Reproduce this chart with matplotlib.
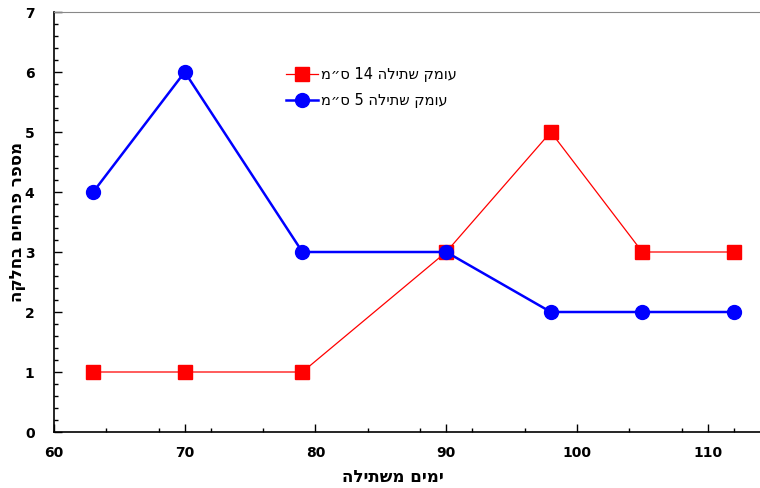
import matplotlib
matplotlib.use('Agg')
import matplotlib.pyplot as plt
from matplotlib.ticker import MultipleLocator

days = [63, 70, 79, 90, 98, 105, 112]
depth_14 = [1, 1, 1, 3, 5, 3, 3]
depth_5 = [4, 6, 3, 3, 2, 2, 2]
label_14 = 'עומק שתילה 14 ס״מ'
label_5 = 'עומק שתילה 5 ס״מ'
xlabel = 'ימים משתילה'
ylabel = 'מספר פרחים בחלקה'


def rtl(s):
    # matplotlib has no bidi support: flip word order and Hebrew letters
    return ' '.join(w if w.isdigit() else w[::-1] for w in reversed(s.split()))


plt.rcParams['font.family'] = ['DejaVu Sans']

fig = plt.figure(figsize=(7.6, 4.88), dpi=100)
ax = fig.add_axes([54 / 760, 56 / 488, 706 / 760, 420 / 488])

ax.plot(days, depth_14, color='#ff0000', lw=0.9, marker='s', ms=10,
        label=rtl(label_14))
ax.plot(days, depth_5, color='#0000ff', lw=1.8, marker='o', ms=10,
        label=rtl(label_5))

ax.set_xlim(60, 114)
ax.set_ylim(0, 7)
ax.xaxis.set_major_locator(MultipleLocator(10))
ax.xaxis.set_minor_locator(MultipleLocator(4))
ax.yaxis.set_major_locator(MultipleLocator(1))
ax.yaxis.set_minor_locator(MultipleLocator(0.2))
ax.tick_params(which='both', direction='in', labelsize=10, width=1)
ax.tick_params(which='major', length=6)
ax.tick_params(which='minor', length=3)
ax.tick_params(axis='x', pad=10)
ax.tick_params(axis='y', pad=14)
for t in ax.get_xticklabels() + ax.get_yticklabels():
    t.set_fontweight('bold')

ax.spines['right'].set_visible(False)
ax.spines['top'].set_color('#888888')
ax.spines['left'].set_linewidth(1.2)
ax.spines['bottom'].set_linewidth(1.2)

ax.set_xlabel(rtl(xlabel), fontsize=12, fontweight='bold')
ax.xaxis.set_label_coords(0.48, -0.085)
ax.set_ylabel(rtl(ylabel), fontsize=12, fontweight='bold')
ax.yaxis.set_label_coords(-0.040, 0.5)

ax.legend(loc='upper left', bbox_to_anchor=(0.31, 0.90), frameon=False,
          fontsize=10.5, handlelength=2.2, handletextpad=0.2, labelspacing=0.75)

fig.savefig('out.png', dpi=100)
